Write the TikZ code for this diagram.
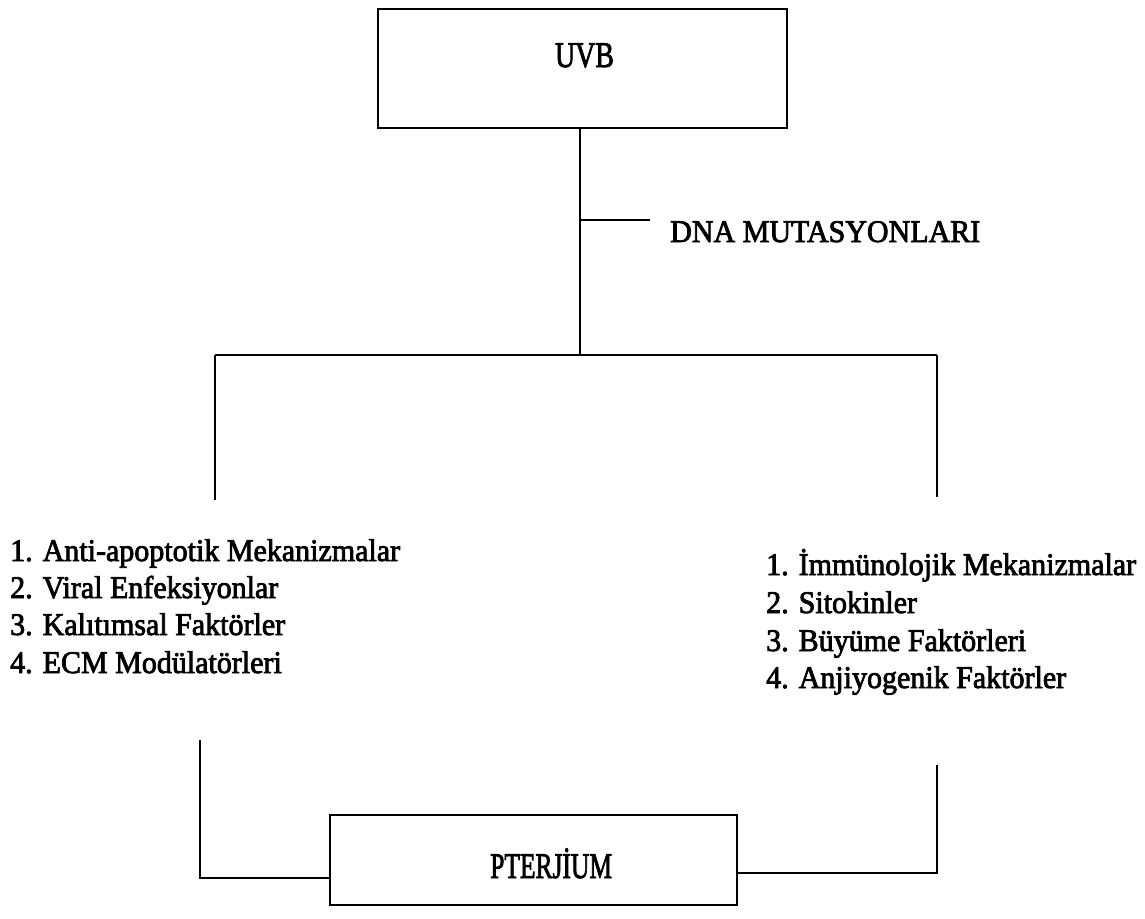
\documentclass[tikz,border=0pt]{standalone}
\usepackage{graphicx}
\usepackage{fontspec}
\setmainfont{Liberation Serif}
\newfontfamily\reffont{Liberation Serif}[FakeBold=2.5]
\newcommand{\vs}[1]{\scalebox{1}[1.05]{#1}}
\begin{document}
\begin{tikzpicture}[x=1pt,y=-1pt,
  every node/.style={font=\reffont\fontsize{30}{37}\selectfont, inner sep=0pt},
  box/.style={draw, line width=1.8pt, fill=white},
  ln/.style={line width=1.6pt},
  item/.style={anchor=base west}]
\useasboundingbox[fill=white] (0,0) rectangle (1145,918);
% boxes
\node[box, minimum width=409pt, minimum height=119pt] (uvb) at (582.5,68.5) {};
\node[anchor=base] (uvbt) at (584.5,67) {\scalebox{0.93}[1.2]{UVB}};
\node[box, minimum width=407pt, minimum height=90pt] (pt) at (533.5,860) {};
\node[anchor=base west] (ptt) at (490,878) {\scalebox{0.85}[1.2]{PTERJİUM}};
% DNA label
\node[anchor=base west] (dna) at (670,242) {\vs{DNA MUTASYONLARI}};
% left list
\node[item] (l1) at (10,561) {\vs{1. Anti-apoptotik Mekanizmalar}};
\node[item] (l2) at (10,598) {\vs{2. Viral Enfeksiyonlar}};
\node[item] (l3) at (10,635) {\vs{3. Kalıtımsal Faktörler}};
\node[item] (l4) at (10,673) {\vs{4. ECM Modülatörleri}};
% right list
\node[item] (r1) at (766,575) {\vs{1. İmmünolojik Mekanizmalar}};
\node[item] (r2) at (766,613) {\vs{2. Sitokinler}};
\node[item] (r3) at (766,651) {\vs{3. Büyüme Faktörleri}};
\node[item] (r4) at (766,688) {\vs{4. Anjiyogenik Faktörler}};
% coordinates
\coordinate (top) at (580,128);
\coordinate (br) at (580,220);
\coordinate (brend) at (650,220);
\coordinate (split) at (580,355);
\coordinate (hl) at (215,355);
\coordinate (hr) at (937,355);
\coordinate (ld) at (215,500);
\coordinate (rd) at (937,497);
\coordinate (lu) at (200,740);
\coordinate (lc) at (200,878);
\coordinate (ru) at (937,765);
\coordinate (rc) at (937,873);
% connectors
\draw[ln] (top) -- (split);
\draw[ln] (br) -- (brend);
\draw[ln] (hl) -- (hr);
\draw[ln] (hl) -- (ld);
\draw[ln] (hr) -- (rd);
\draw[ln] (lu) -- (lc) -- (lc -| pt.west);
\draw[ln] (ru) -- (rc) -- (rc -| pt.east);
\end{tikzpicture}
\end{document}
